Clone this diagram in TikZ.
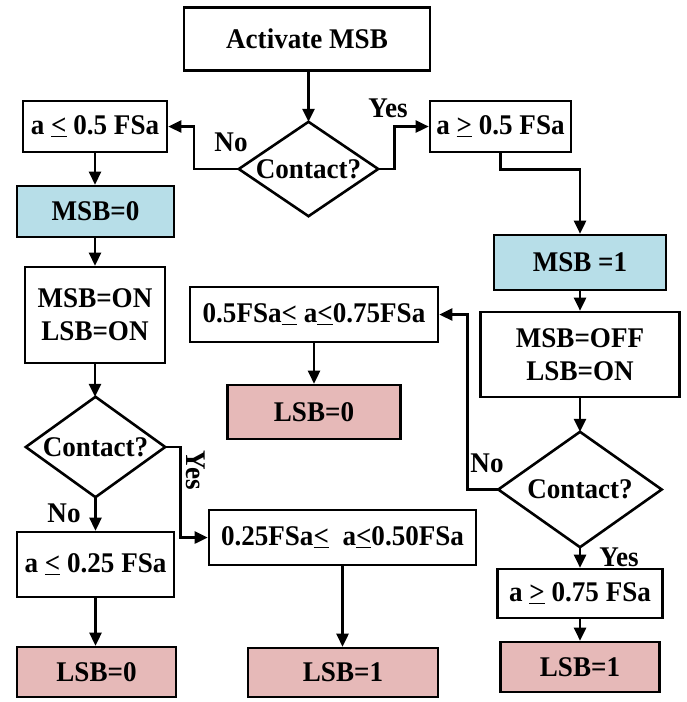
\documentclass[tikz,border=0pt]{standalone}
\usepackage{fontspec}
\setmainfont{Liberation Serif}[FakeStretch=0.95]
\usetikzlibrary{arrows.meta}
\definecolor{bxblue}{HTML}{B7DEE8}
\definecolor{bxpink}{HTML}{E6B9B8}
\newcommand{\myle}{\underline{<}}
\newcommand{\myge}{\underline{>}}
\begin{document}
\begin{tikzpicture}[x=1pt,y=-1pt,
  font=\fontsize{28.5}{33}\selectfont\bfseries,
  box/.style={draw, line width=2.6pt, inner sep=0pt, align=center},
  dia/.style={inner sep=0pt},
  diaedge/.style={line width=2.6pt, line join=miter},
  arr/.style={line width=2.6pt, -{Triangle[length=13pt,width=12pt]}},
  lbl/.style={inner sep=0pt}]
\useasboundingbox (0,0) rectangle (686,702);

% boxes
\node[box, minimum width=246pt, minimum height=63pt] (act) at (307,39) {Activate MSB};
\node[box, minimum width=144pt, minimum height=51pt] (b05l) at (95,126.5) {a \myle{} 0.5 FSa};
\node[box, minimum width=141pt, minimum height=51pt] (b05g) at (500.5,126.5) {a \myge{} 0.5 FSa};
\node[box, fill=bxblue, minimum width=157pt, minimum height=51pt] (msb0) at (95.5,211.5) {MSB=0};
\node[box, fill=bxblue, minimum width=172pt, minimum height=55pt] (msb1) at (580,262.5) {MSB =1};
\node[box, minimum width=140pt, minimum height=96pt] (on) at (95,315) {MSB=ON\\LSB=ON};
\node[box, minimum width=199pt, minimum height=85pt] (off) at (580,354.5) {MSB=OFF\\LSB=ON};
\node[box, minimum width=248pt, minimum height=55pt] (b0575) at (314,314.5) {0.5FSa\myle{} a\myle{}0.75FSa};
\node[box, fill=bxpink, minimum width=173pt, minimum height=54pt] (lsb0m) at (314,412) {LSB=0};
\node[box, minimum width=157pt, minimum height=65pt] (b025) at (95.5,564.5) {a \myle{} 0.25 FSa};
\node[box, minimum width=267pt, minimum height=55pt] (bmid) at (342.5,537.5) {0.25FSa\myle\ \ a\myle{}0.50FSa};
\node[box, fill=bxpink, minimum width=159pt, minimum height=50pt] (lsb0l) at (96.5,672) {LSB=0};
\node[box, fill=bxpink, minimum width=190pt, minimum height=49pt] (lsb1m) at (343,672.5) {LSB=1};
\node[box, minimum width=165pt, minimum height=49pt] (b075) at (580,593.5) {a \myge{} 0.75 FSa};
\node[box, fill=bxpink, minimum width=159pt, minimum height=50pt] (lsb1r) at (580,667) {LSB=1};

% diamonds
\node[dia, minimum width=139pt, minimum height=94pt] (d1) at (308.5,169) {Contact?};
\node[dia, minimum width=139pt, minimum height=100pt] (d2) at (95.5,447) {Contact?};
\node[dia, minimum width=163pt, minimum height=115pt] (d3) at (580,489.5) {Contact?};
\foreach \d in {d1,d2,d3}
  \draw[diaedge] (\d.west) -- (\d.north) -- (\d.east) -- (\d.south) -- cycle;

% connectors
\draw[arr] (act.south -| d1.north) -- (d1.north);
\draw[arr] (d1.west) -- ++(-45,0) |- (b05l.east);
\draw[arr] (d1.east) -- ++(16,0) |- (b05g.west);
\draw[arr] (b05g.south) -- ++(0,16) -| (msb1.north);
\draw[arr] (b05l.south) -- (msb0.north -| b05l.south);
\draw[arr] (msb0.south -| on.north) -- (on.north);
\draw[arr] (on.south) -- (d2.north -| on.south);
\draw[arr] (d2.south) -- (b025.north -| d2.south);
\draw[arr] (d2.east) -- ++(15,0) |- (bmid.west);
\draw[arr] (b025.south) -- (lsb0l.north -| b025.south);
\draw[arr] (bmid.south) -- (lsb1m.north -| bmid.south);
\draw[arr] (msb1.south) -- (off.north);
\draw[arr] (off.south) -- (d3.north);
\draw[arr] (d3.west) -- ++(-31,0) |- (b0575.east);
\draw[arr] (b0575.south) -- (lsb0m.north);
\draw[arr] (d3.south) -- (b075.north);
\draw[arr] (b075.south) -- (lsb1r.north);

% labels
\node[lbl] (l1) at (231,142) {No};
\node[lbl] (l2) at (388,108) {Yes};
\node[lbl] (l3) at (64,513) {No};
\node[lbl, rotate=-90] (l4) at (196,470) {Yes};
\node[lbl] (l5) at (487,463) {No};
\node[lbl] (l6) at (619,557) {Yes};
\end{tikzpicture}
\end{document}
